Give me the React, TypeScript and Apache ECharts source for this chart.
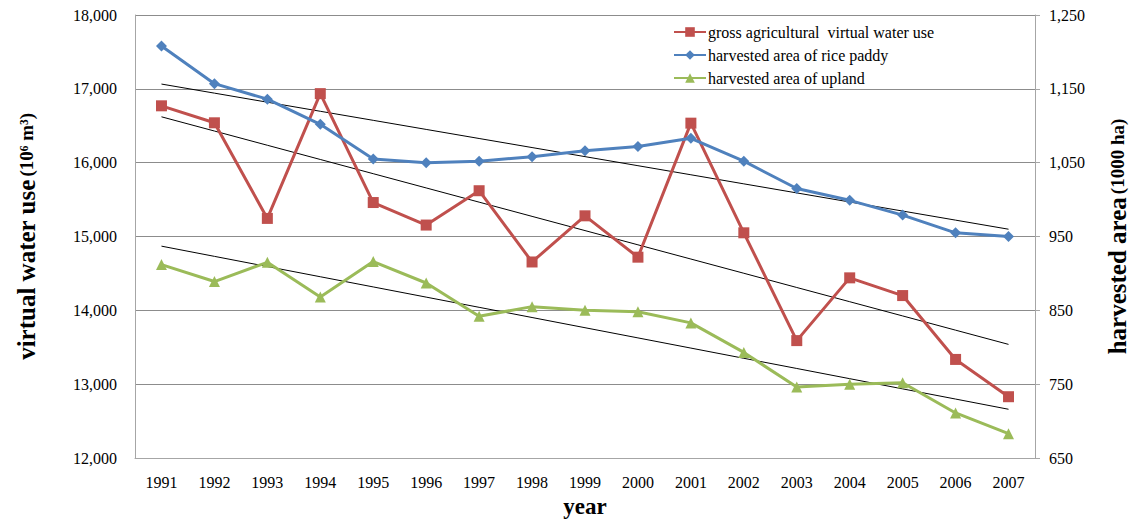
import React, { useEffect, useRef } from "react";
import * as echarts from "echarts";

const years = ["1991","1992","1993","1994","1995","1996","1997","1998","1999","2000","2001","2002","2003","2004","2005","2006","2007"];
const virtualWater = [16770, 16540, 15245, 16935, 15460, 15155, 15620, 14655, 15280, 14720, 16535, 15050, 13590, 14440, 14200, 13335, 12830];
const ricePaddy = [1208, 1157, 1136, 1102, 1055, 1050, 1052, 1058, 1066, 1072, 1083, 1052, 1015, 999, 979, 955, 950];
const upland = [912, 889, 915, 868, 916, 887, 842, 855, 850, 848, 833, 793, 746, 750, 752, 711, 683];

const leftTicks = { min: 12000, max: 18000, interval: 1000 };
const rightTicks = { min: 650, max: 1250, interval: 100 };

function trend(values: number[]): number[] {
  const n = values.length;
  let sx = 0, sy = 0, sxy = 0, sxx = 0;
  values.forEach((v, i) => { sx += i; sy += v; sxy += i * v; sxx += i * i; });
  const b = (n * sxy - sx * sy) / (n * sxx - sx * sx);
  const a = (sy - b * sx) / n;
  return values.map((_, i) => a + b * i);
}

const fmt = (v: number) => v.toLocaleString("en-US");
const FONT = "'Liberation Serif', 'Times New Roman', serif";

export default function App() {
  const ref = useRef<HTMLDivElement>(null);
  useEffect(() => {
    if (!ref.current) return;
    const chart = echarts.init(ref.current, undefined, { renderer: "svg" });
    const trendStyle = {
      type: "line" as const,
      symbol: "none",
      silent: true,
      lineStyle: { color: "#000", width: 1 },
      z: 1,
    };
    chart.setOption({
      animation: false,
      textStyle: { fontFamily: FONT },
      grid: { left: 135, right: 96, top: 15, bottom: 64, outerBoundsMode: "none", containLabel: false },
      legend: {
        data: ["gross agricultural  virtual water use", "harvested area of rice paddy", "harvested area of upland"],
        orient: "vertical",
        left: 668,
        top: 19,
        itemWidth: 32,
        itemHeight: 12,
        itemGap: 7,
        textStyle: { fontFamily: FONT, fontSize: 16, color: "#000", padding: [0, 0, 0, -3] },
      },
      xAxis: {
        type: "category",
        data: years,
        boundaryGap: true,
        axisLine: { lineStyle: { color: "#A6A6A6" } },
        axisTick: { show: false },
        axisLabel: { color: "#000", fontSize: 16, fontFamily: FONT, margin: 16 },
        name: "year",
        nameLocation: "middle",
        nameGap: 37,
        nameTextStyle: { fontFamily: FONT, fontSize: 23, fontWeight: "bold", color: "#000" },
      },
      yAxis: [
        {
          type: "value",
          ...leftTicks,
          position: "left",
          axisLine: { show: true, lineStyle: { color: "#A6A6A6" } },
          axisTick: { show: false },
          splitLine: { lineStyle: { color: "#8C8C8C" } },
          axisLabel: { color: "#000", fontSize: 16, fontFamily: FONT, margin: 18, formatter: fmt },
          name: "{a|virtual water use} {b|(10⁶ m³)}",
          nameLocation: "middle",
          nameRotate: 90,
          nameGap: 96,
          nameTextStyle: {
            rich: {
              a: { fontFamily: FONT, fontSize: 25, fontWeight: "bold", color: "#000" },
              b: { fontFamily: FONT, fontSize: 19, fontWeight: "bold", color: "#000" },
            },
          },
        },
        {
          type: "value",
          ...rightTicks,
          position: "right",
          axisLine: { show: true, lineStyle: { color: "#A6A6A6" } },
          axisTick: { show: true, length: 5, inside: false, lineStyle: { color: "#A6A6A6" } },
          splitLine: { show: false },
          axisLabel: { color: "#000", fontSize: 16, fontFamily: FONT, margin: 14, formatter: fmt },
          name: "{a|harvested area} {b|(1000 ha)}",
          nameLocation: "middle",
          nameRotate: 90,
          nameGap: 70,
          nameTextStyle: {
            rich: {
              a: { fontFamily: FONT, fontSize: 25, fontWeight: "bold", color: "#000" },
              b: { fontFamily: FONT, fontSize: 19, fontWeight: "bold", color: "#000" },
            },
          },
        },
      ],
      series: [
        { ...trendStyle, name: "trend-rice", yAxisIndex: 1, data: trend(ricePaddy) },
        { ...trendStyle, name: "trend-water", yAxisIndex: 0, data: trend(virtualWater) },
        { ...trendStyle, name: "trend-upland", yAxisIndex: 1, data: trend(upland) },
        {
          name: "gross agricultural  virtual water use",
          type: "line",
          yAxisIndex: 0,
          data: virtualWater,
          symbol: "rect",
          symbolSize: 11,
          itemStyle: { color: "#C0504D" },
          lineStyle: { color: "#C0504D", width: 3 },
          z: 3,
        },
        {
          name: "harvested area of rice paddy",
          type: "line",
          yAxisIndex: 1,
          data: ricePaddy,
          symbol: "diamond",
          symbolSize: 11,
          itemStyle: { color: "#4F81BD" },
          lineStyle: { color: "#4F81BD", width: 3 },
          z: 3,
        },
        {
          name: "harvested area of upland",
          type: "line",
          yAxisIndex: 1,
          data: upland,
          symbol: "triangle",
          symbolSize: 11,
          itemStyle: { color: "#9BBB59" },
          lineStyle: { color: "#9BBB59", width: 3 },
          z: 3,
        },
      ],
    });
    return () => chart.dispose();
  }, []);
  return <div ref={ref} style={{ width: 1131, height: 522, position: "absolute", left: 0, top: 0 }} />;
}
